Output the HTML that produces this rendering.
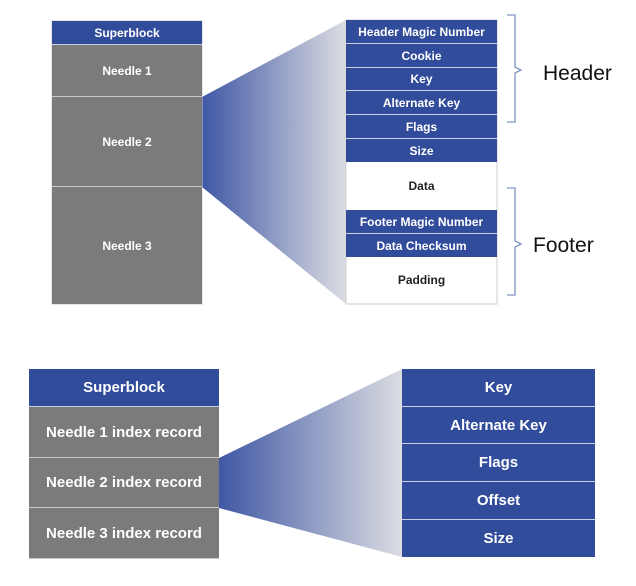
<!DOCTYPE html>
<html><head><style>
body{margin:0;width:636px;height:586px;background:#fff;position:relative;overflow:hidden;font-family:"Liberation Sans",sans-serif}
.r{position:absolute;box-sizing:border-box;display:flex;align-items:center;justify-content:center;font-weight:bold;color:#fff}
.b{background:#324c9c;border-bottom:1px solid #c9cfe0}
.g{background:#7b7b7b;border-bottom:1px solid #c8c8c8}
.w{background:#fff;color:#222}
.t{position:absolute;font-size:21px;color:#111}
</style></head><body>
<svg width="636" height="586" style="position:absolute;left:0;top:0">
<defs><linearGradient id="gr" x1="0" x2="1" y1="0" y2="0"><stop offset="0" stop-color="#3f57a4"/><stop offset="1" stop-color="#dcdde2"/></linearGradient></defs>
<polygon points="202,97 346,20 346,304 202,187" fill="url(#gr)"/>
<polygon points="219,458 402,369 402,557 219,508" fill="url(#gr)"/>
<path d="M507,15 h8 v52 l6,3 l-6,3 v49 h-8" fill="none" stroke="#7d93c0" stroke-width="1.3"/>
<path d="M507,188 h8 v53 l6,3 l-6,3 v48 h-8" fill="none" stroke="#7d93c0" stroke-width="1.3"/>
<rect x="52" y="21" width="150" height="283" fill="none" stroke="#ccc"/>
<rect x="346" y="20" width="151" height="284" fill="none" stroke="#ccc"/>
</svg>
<div class="r b" style="left:52px;top:21px;width:150px;height:24px;font-size:12px">Superblock</div>
<div class="r g" style="left:52px;top:45px;width:150px;height:52px;font-size:12px">Needle 1</div>
<div class="r g" style="left:52px;top:97px;width:150px;height:90px;font-size:12px">Needle 2</div>
<div class="r g" style="left:52px;top:187px;width:150px;height:117px;font-size:12px;border:none">Needle 3</div>

<div class="r b" style="left:346px;top:20px;width:151px;height:24px;font-size:12px">Header Magic Number</div>
<div class="r b" style="left:346px;top:44px;width:151px;height:24px;font-size:12px">Cookie</div>
<div class="r b" style="left:346px;top:68px;width:151px;height:23px;font-size:12px">Key</div>
<div class="r b" style="left:346px;top:91px;width:151px;height:24px;font-size:12px">Alternate Key</div>
<div class="r b" style="left:346px;top:115px;width:151px;height:24px;font-size:12px">Flags</div>
<div class="r b" style="left:346px;top:139px;width:151px;height:23px;font-size:12px;border:none">Size</div>
<div class="r w" style="left:347px;top:162px;width:149px;height:48px;font-size:12px">Data</div>
<div class="r b" style="left:346px;top:210px;width:151px;height:24px;font-size:12px">Footer Magic Number</div>
<div class="r b" style="left:346px;top:234px;width:151px;height:23px;font-size:12px;border:none">Data Checksum</div>
<div class="r w" style="left:347px;top:257px;width:149px;height:46px;font-size:12px">Padding</div>
<div class="t" style="left:543px;top:62px">Header</div>
<div class="t" style="left:533px;top:234px">Footer</div>

<div class="r b" style="left:29px;top:369px;width:190px;height:38px;font-size:15px">Superblock</div>
<div class="r g" style="left:29px;top:407px;width:190px;height:51px;font-size:15px">Needle 1 index record</div>
<div class="r g" style="left:29px;top:458px;width:190px;height:50px;font-size:15px">Needle 2 index record</div>
<div class="r g" style="left:29px;top:508px;width:190px;height:51px;font-size:15px">Needle 3 index record</div>

<div class="r b" style="left:402px;top:369px;width:193px;height:38px;font-size:15px">Key</div>
<div class="r b" style="left:402px;top:407px;width:193px;height:37px;font-size:15px">Alternate Key</div>
<div class="r b" style="left:402px;top:444px;width:193px;height:38px;font-size:15px">Flags</div>
<div class="r b" style="left:402px;top:482px;width:193px;height:38px;font-size:15px">Offset</div>
<div class="r b" style="left:402px;top:520px;width:193px;height:37px;font-size:15px;border:none">Size</div>
</body></html>
